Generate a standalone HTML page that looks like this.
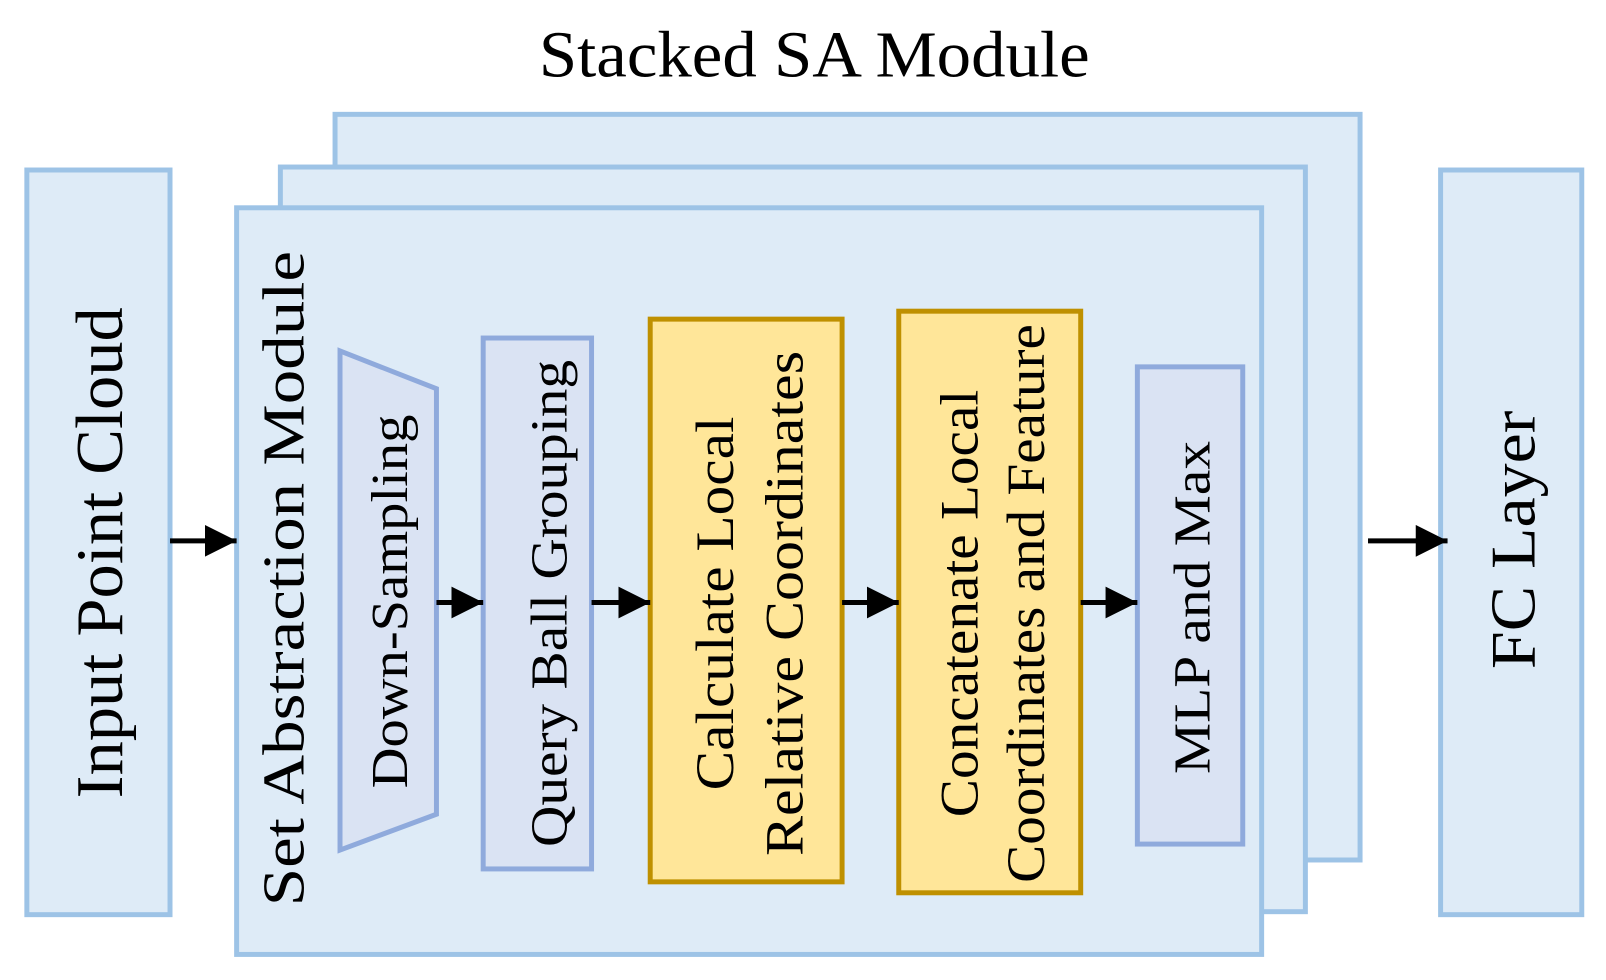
<!DOCTYPE html>
<html><head><meta charset="utf-8"><style>html,body{margin:0;padding:0;background:#fff}svg{display:block}</style></head>
<body>
<svg width="1606" height="980" viewBox="0 0 1606 980" xmlns="http://www.w3.org/2000/svg" font-family="'Liberation Serif', serif">
<defs><marker id="a" markerWidth="32" markerHeight="32" refX="10" refY="5" orient="auto" markerUnits="userSpaceOnUse" viewBox="0 0 10 10"><path d="M0,0 L10,5 L0,10 Z" fill="#000"/></marker></defs>
<g transform="scale(0.9942)">
<text x="819" y="77" font-size="66" text-anchor="middle" textLength="554" lengthAdjust="spacingAndGlyphs">Stacked SA Module</text>
<g fill="#deebf7" stroke="#9dc3e6" stroke-width="5">
<rect x="337" y="115" width="1031" height="750"/>
<rect x="282" y="168" width="1031" height="749"/>
<rect x="238" y="209" width="1031" height="751"/>
<rect x="27" y="171" width="144" height="749"/>
<rect x="1449" y="171" width="142" height="749"/>
</g>
<g fill="#dae3f3" stroke="#8faadc" stroke-width="5">
<polygon points="342,353 439,391 439,819 342,855"/>
<rect x="486" y="340" width="109" height="534"/>
<rect x="1144" y="369" width="106" height="480"/>
</g>
<g fill="#ffe699" stroke="#bf9000" stroke-width="5">
<rect x="654" y="321" width="193" height="566"/>
<rect x="904" y="313" width="183" height="585"/>
</g>
<g stroke="#000" stroke-width="5">
<line x1="171" y1="544" x2="238" y2="544" marker-end="url(#a)"/>
<line x1="1376" y1="544" x2="1456" y2="544" marker-end="url(#a)"/>
<line x1="439" y1="606" x2="486" y2="606" marker-end="url(#a)"/>
<line x1="595" y1="606" x2="654" y2="606" marker-end="url(#a)"/>
<line x1="847" y1="606" x2="904" y2="606" marker-end="url(#a)"/>
<line x1="1087" y1="606" x2="1144" y2="606" marker-end="url(#a)"/>
</g>
<g fill="#000" text-anchor="middle" dominant-baseline="central">
<text transform="translate(101,556) rotate(-90)" font-size="67" textLength="494" lengthAdjust="spacingAndGlyphs">Input Point Cloud</text>
<text transform="translate(285,582) rotate(-90)" font-size="60" textLength="659" lengthAdjust="spacingAndGlyphs">Set Abstraction Module</text>
<text transform="translate(393,605) rotate(-90)" font-size="52" textLength="376" lengthAdjust="spacingAndGlyphs">Down-Sampling</text>
<text transform="translate(553,607) rotate(-90)" font-size="52" textLength="490" lengthAdjust="spacingAndGlyphs">Query Ball Grouping</text>
<text transform="translate(719,607) rotate(-90)" font-size="54" textLength="376" lengthAdjust="spacingAndGlyphs">Calculate Local</text>
<text transform="translate(789,607) rotate(-90)" font-size="54" textLength="508" lengthAdjust="spacingAndGlyphs">Relative Coordinates</text>
<text transform="translate(965,607) rotate(-90)" font-size="54" textLength="430" lengthAdjust="spacingAndGlyphs">Concatenate Local</text>
<text transform="translate(1032,607) rotate(-90)" font-size="54" textLength="562" lengthAdjust="spacingAndGlyphs">Coordinates and Feature</text>
<text transform="translate(1200,611) rotate(-90)" font-size="52" textLength="335" lengthAdjust="spacingAndGlyphs">MLP and Max</text>
<text transform="translate(1522,543) rotate(-90)" font-size="64" textLength="260" lengthAdjust="spacingAndGlyphs">FC Layer</text>
</g>
</g>
</svg>
</body></html>
